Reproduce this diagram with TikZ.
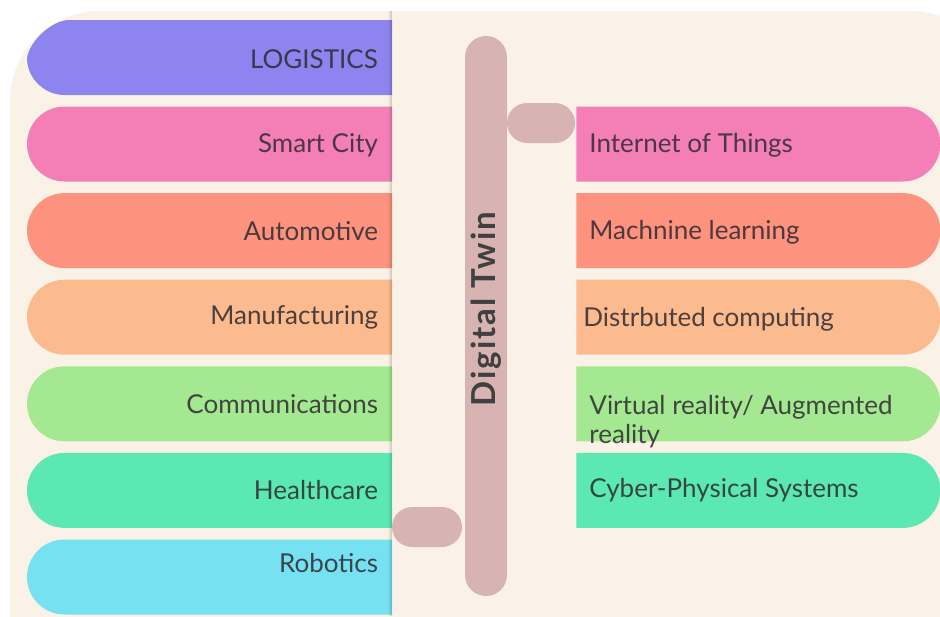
\documentclass[tikz,border=0pt]{standalone}
\usepackage{fontspec}
\setmainfont{Lato}
\usepackage{tikz}
\usetikzlibrary{shapes, positioning}
\definecolor{cream}{HTML}{FBF2E7}
\definecolor{ink}{HTML}{2E2A30}
\definecolor{stemc}{HTML}{D7B4B2}
\definecolor{cpurple}{HTML}{8E84EF}
\definecolor{cpink}{HTML}{F47FB7}
\definecolor{csalmon}{HTML}{FD927F}
\definecolor{cpeach}{HTML}{FBBB8E}
\definecolor{cgreen}{HTML}{A5E892}
\definecolor{cmint}{HTML}{5CE8B3}
\definecolor{ccyan}{HTML}{76E1F1}
\tikzstyle{app} = [rounded rectangle, rounded rectangle east arc = none,
  minimum width = 365, minimum height = 75, inner sep = 0]
\tikzstyle{tech} = [rounded rectangle, rounded rectangle west arc = none,
  minimum width = 364, minimum height = 75, inner sep = 0]
\tikzstyle{txt} = [
  text = ink, text opacity = 0.85, inner sep = 0,
  font = \fontsize{26}{29}\selectfont
]
\tikzstyle{link} = [rectangle, rounded corners = 20, fill = stemc,
  minimum height = 40, inner sep = 0]

\begin{document}
\begin{tikzpicture}[x = 1pt, y = -1pt, node distance = 11.2pt]
      \useasboundingbox (0, 0) rectangle (940, 616);
      \fill [white] (0, 0) rectangle (940, 616);
      \fill [cream, rounded corners = 90] (10, 700) -- (10, 11) -- (1000, 11)
        -- (1000, 700) -- cycle;

      % left column
      \fill [cpurple] (392, 20) -- (68, 20) .. controls (52, 21) and (30, 40)
        .. (27, 58) .. controls (27, 78) and (44, 95) .. (64.5, 95)
        -- (392, 95) -- cycle;
      \node [app, fill = cpink] (app-1) at (209.5, 144) {};
      \node [app, fill = csalmon, below = of app-1] (app-2) {};
      \node [app, fill = cpeach, below = of app-2] (app-3) {};
      \node [app, fill = cgreen, below = of app-3] (app-4) {};
      \node [app, fill = cmint, below = of app-4] (app-5) {};
      \node [app, fill = ccyan, below = of app-5] (app-6) {};

      % right column
      \node [tech, fill = cpink, right = 184pt of app-1] (tech-1) {};
      \node [tech, fill = csalmon, below = of tech-1] (tech-2) {};
      \node [tech, fill = cpeach, below = of tech-2] (tech-3) {};
      \node [tech, fill = cgreen, below = of tech-3] (tech-4) {};
      \node [tech, fill = cmint, below = of tech-4] (tech-5) {};

      % panel edge
      \foreach \i/\o in {0/0.16, 1/0.10, 2/0.06, 3/0.03}
        \draw [black, opacity = \o, line width = 1pt]
          (391.5 - \i, 11) -- (391.5 - \i, 616);

      % stem and links
      \node [link, minimum width = 42, minimum height = 560,
        rounded corners = 21] (stem) at (486, 316) {};
      \node [link, minimum width = 68] (link-top) at (541, 123) {};
      \node [link, minimum width = 70] (link-bot) at (427, 527) {};
      \node [txt, rotate = 90, text = black!75, text opacity = 1,
        font = \fontsize{33}{36}\selectfont\bfseries\addfontfeatures{LetterSpace = 6}]
        (twin) at (486, 309) {Digital Twin};

      % labels
      \node [txt, anchor = east] (lbl-app-0) at (378, 59) {LOGISTICS};
      \node [txt, left = 14pt of app-1.east, yshift = -1] (lbl-app-1) {Smart City};
      \node [txt, left = 14pt of app-2.east] (lbl-app-2) {Automotive};
      \node [txt, left = 14pt of app-3.east] (lbl-app-3) {Manufacturing};
      \node [txt, left = 14pt of app-4.east] (lbl-app-4) {Communications};
      \node [txt, left = 14pt of app-5.east] (lbl-app-5) {Healthcare};
      \node [txt, left = 14pt of app-6.east, yshift = 14] (lbl-app-6) {Robotics};
      \node [txt, right = 13pt of tech-1.west, yshift = -1] (lbl-tech-1) {Internet of Things};
      \node [txt, right = 13pt of tech-2.west, yshift = -2] (lbl-tech-2) {Machnine learning};
      \node [txt, right = 7pt of tech-3.west, yshift = -2] (lbl-tech-3) {Distrbuted computing};
      \node [txt, anchor = north west, align = left] (lbl-tech-4)
        at ([xshift = 13pt, yshift = 9pt] tech-4.west)
        {Virtual reality/ Augmented\\reality};
      \node [txt, right = 13pt of tech-5.west] (lbl-tech-5) {Cyber-Physical Systems};
    \end{tikzpicture}
\end{document}
